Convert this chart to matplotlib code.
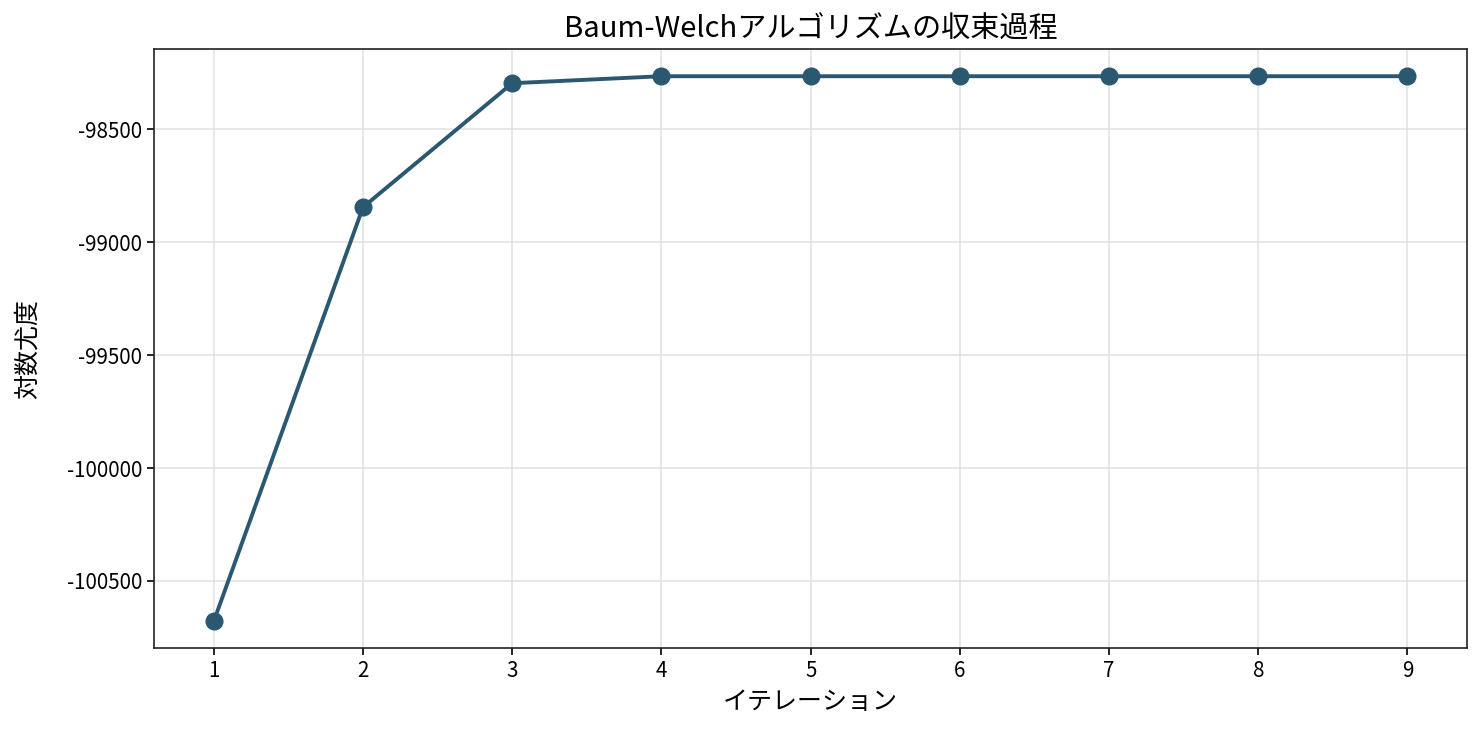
import numpy as np
import matplotlib.pyplot as plt

plt.rcParams['font.family'] = ['Noto Sans CJK JP', 'DejaVu Sans']
plt.rcParams['axes.unicode_minus'] = False

# log likelihood per Baum-Welch iteration
iterations = [1, 2, 3, 4, 5, 6, 7, 8, 9]
log_likelihood = [-100678, -98845, -98296, -98265, -98265, -98265, -98265, -98265, -98265]

line_color = '#2a5870'

fig, ax = plt.subplots(figsize=(14.82, 7.31), dpi=100)
ax.plot(iterations, log_likelihood, color=line_color, linewidth=2.8,
        marker='o', markersize=12)

ax.set_title('Baum-Welchアルゴリズムの収束過程', fontsize=21, pad=8)
ax.set_xlabel('イテレーション', fontsize=18)
ax.set_ylabel('対数尤度', fontsize=18)
ax.set_xticks(iterations)
ax.set_yticks([-100500, -100000, -99500, -99000, -98500])
ax.tick_params(labelsize=14.8, length=5, width=1.2)
ax.grid(True, color='#dddddd', alpha=0.8, linewidth=1.2)
for s in ax.spines.values():
    s.set_color('#222222')
    s.set_linewidth(1.2)

ax.yaxis.set_label_coords(-0.086, 0.5)
ax.xaxis.set_label_coords(0.5, -0.068)

fig.subplots_adjust(left=0.104, right=0.99, top=0.933, bottom=0.113)
fig.savefig('out.png')
